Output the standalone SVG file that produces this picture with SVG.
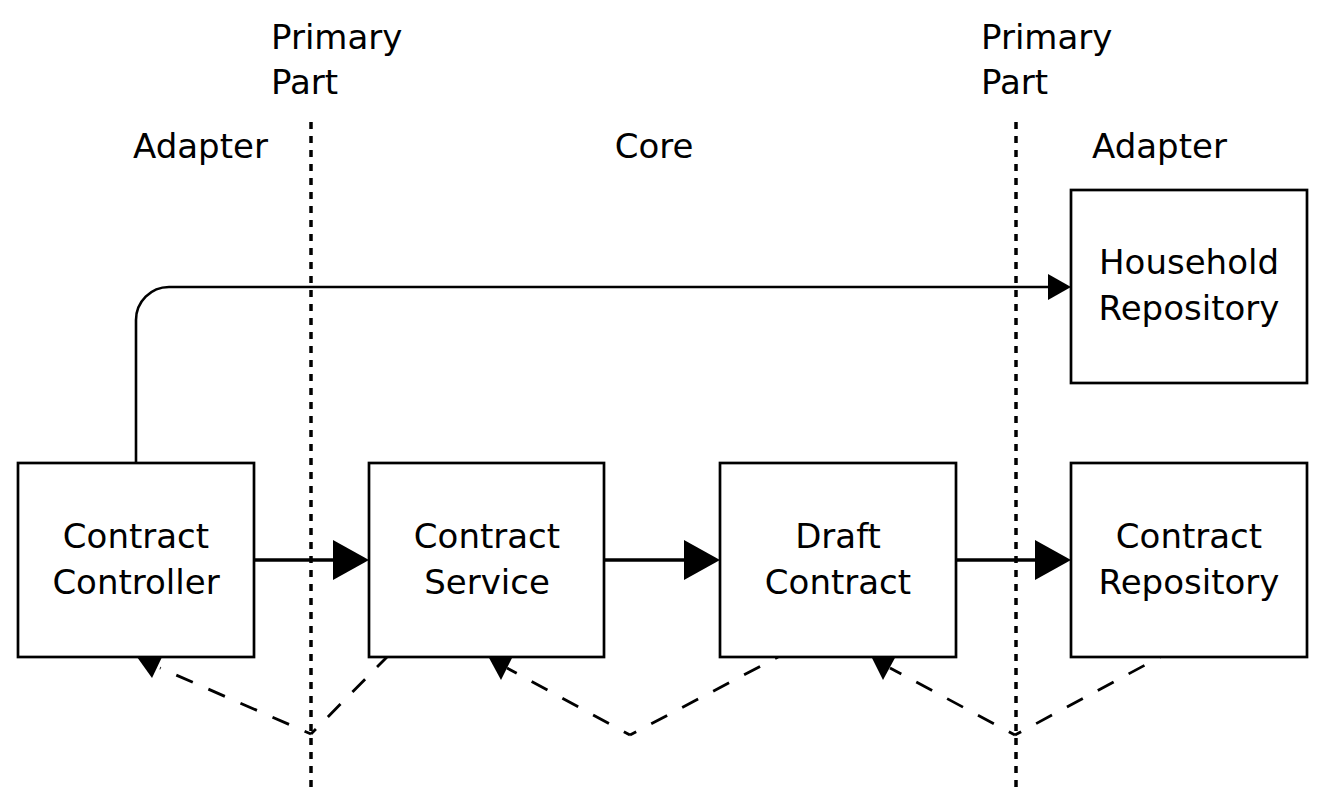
<svg xmlns="http://www.w3.org/2000/svg" width="1325" height="810" viewBox="0 0 1325 810">
<style>
  .box { fill: #ffffff; stroke: #000000; stroke-width: 2.7; }
  .lbl { font-family: "DejaVu Sans", sans-serif; font-size: 34px; fill: #000000; }
  .ctr { text-anchor: middle; }
  .sep { stroke: #000000; stroke-width: 3.5; stroke-dasharray: 7 7; fill: none; }
  .flow { stroke: #000000; stroke-width: 3.5; fill: none; }
  .thin { stroke: #000000; stroke-width: 2.6; fill: none; }
  .dash { stroke: #000000; stroke-width: 2.8; fill: none; stroke-dasharray: 18 17; stroke-dashoffset: 11; }
  .head { fill: #000000; stroke: none; }
</style>
<rect width="1325" height="810" fill="#ffffff"/>

<g id="labels">
  <text class="lbl" x="271" y="49">Primary</text>
  <text class="lbl" x="271" y="94">Part</text>
  <text class="lbl" x="981" y="49">Primary</text>
  <text class="lbl" x="981" y="94">Part</text>
  <text class="lbl" x="133" y="158">Adapter</text>
  <text class="lbl ctr" x="654" y="158">Core</text>
  <text class="lbl" x="1092" y="158">Adapter</text>
</g>

<g id="separators">
  <line class="sep" x1="311" y1="122" x2="311" y2="790"/>
  <line class="sep" x1="1016" y1="122" x2="1016" y2="790"/>
</g>

<g id="connectors">
  <path class="thin" d="M136,463 V320 A33,33 0 0 1 169,287 H1048"/>
  <polygon class="head" points="1048,274 1071,287 1048,300"/>

  <line class="flow" x1="254" y1="560" x2="334" y2="560"/>
  <polygon class="head" points="333,540 369,560 333,580"/>
  <line class="flow" x1="604" y1="560" x2="685" y2="560"/>
  <polygon class="head" points="684,540 720,560 684,580"/>
  <line class="flow" x1="956" y1="560" x2="1036" y2="560"/>
  <polygon class="head" points="1035,540 1071,560 1035,580"/>

  <path class="dash" d="M311,734 L387,657"/>
  <path class="dash" d="M311,734 L160,668"/>
  <polygon class="head" points="137,657 163,655 152,678"/>

  <path class="dash" d="M630,735 L778,657"/>
  <path class="dash" d="M630,735 L507,668"/>
  <polygon class="head" points="488,656 513,656 501,680"/>

  <path class="dash" d="M1015,735 L1160,657"/>
  <path class="dash" d="M1015,735 L890,668"/>
  <polygon class="head" points="871,656 896,656 883,680"/>
</g>

<g id="household-repository">
  <rect class="box" x="1071" y="190" width="236" height="193"/>
  <text class="lbl ctr" x="1189" y="274">Household</text>
  <text class="lbl ctr" x="1189" y="320">Repository</text>
</g>
<g id="contract-controller">
  <rect class="box" x="18" y="463" width="236" height="194"/>
  <text class="lbl ctr" x="136" y="548">Contract</text>
  <text class="lbl ctr" x="136" y="594">Controller</text>
</g>
<g id="contract-service">
  <rect class="box" x="369" y="463" width="235" height="194"/>
  <text class="lbl ctr" x="487" y="548">Contract</text>
  <text class="lbl ctr" x="487" y="594">Service</text>
</g>
<g id="draft-contract">
  <rect class="box" x="720" y="463" width="236" height="194"/>
  <text class="lbl ctr" x="838" y="548">Draft</text>
  <text class="lbl ctr" x="838" y="594">Contract</text>
</g>
<g id="contract-repository">
  <rect class="box" x="1071" y="463" width="236" height="194"/>
  <text class="lbl ctr" x="1189" y="548">Contract</text>
  <text class="lbl ctr" x="1189" y="594">Repository</text>
</g>
</svg>
